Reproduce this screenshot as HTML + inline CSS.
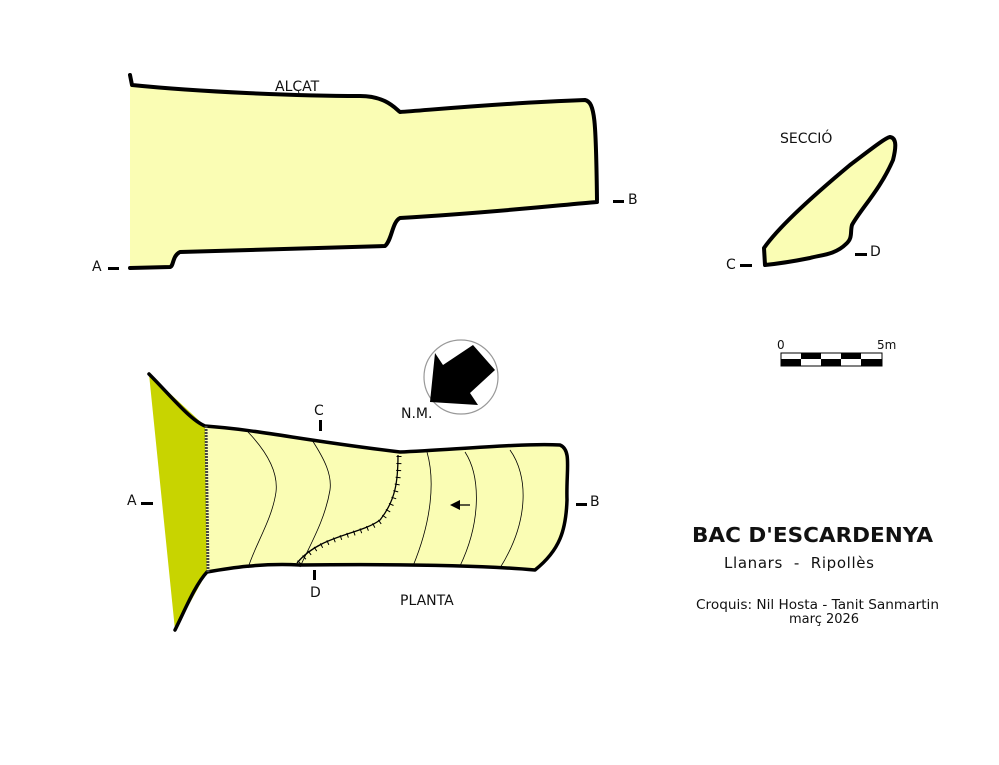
<!DOCTYPE html>
<html><head><meta charset="utf-8"><style>
body{margin:0;background:#fff}
svg{display:block}
text{font-family:"DejaVu Sans","Liberation Sans",sans-serif;fill:#111;white-space:pre}
</style></head><body>
<svg width="999" height="765" viewBox="0 0 999 765" xmlns="http://www.w3.org/2000/svg">
<!-- ALCAT -->
<path d="M130,75 L132,85 C200,92 300,96 360,96 C385,96 395,108 400,112 C430,110 500,103 585,100 C595,102 596,120 597,200 C560,205 500,212 400,218 C392,222 392,240 385,246 C330,248 250,250 180,252 C172,256 174,266 170,267 L130,268 Z" fill="#fafdb4" stroke="none"/>
<path d="M130,75 L132,85 C200,92 300,96 360,96 C385,96 395,108 400,112 C430,110 500,103 585,100 C595,102 596,120 597,200 M597,202 C560,205 500,212 400,218 C392,222 392,240 385,246 C330,248 250,250 180,252 C172,256 174,266 170,267 L130,268" fill="none" stroke="#000" stroke-width="4" stroke-linejoin="round" stroke-linecap="round"/>
<text x="275" y="91" font-size="14">ALÇAT</text>
<text x="92" y="271" font-size="14">A</text>
<rect x="108" y="267" width="11" height="3" fill="#000"/>
<rect x="613" y="200" width="11" height="3" fill="#000"/>
<text x="628" y="204" font-size="14">B</text>

<!-- SECCIO -->
<path d="M765,265 L764,248 C780,225 820,190 850,165 C870,150 885,138 890,137 C897,138 896,148 893,160 C880,190 860,210 852,225 C850,232 853,238 846,244 C835,255 820,255 810,258 C790,262 775,264 765,265 Z" fill="#fafdb4" stroke="#000" stroke-width="4" stroke-linejoin="round"/>
<text x="780" y="143" font-size="14">SECCIÓ</text>
<text x="726" y="269" font-size="14">C</text>
<rect x="740" y="264" width="12" height="3" fill="#000"/>
<rect x="855" y="253" width="12" height="3" fill="#000"/>
<text x="870" y="256" font-size="14">D</text>

<!-- scale -->
<text x="777" y="349" font-size="12">0</text>
<text x="877" y="349" font-size="12">5m</text>
<rect x="781" y="353" width="101" height="13" fill="#fff" stroke="#000" stroke-width="1"/>
<rect x="801" y="353" width="20" height="6" fill="#000"/><rect x="841" y="353" width="20" height="6" fill="#000"/>
<rect x="781" y="359" width="20" height="7" fill="#000"/><rect x="821" y="359" width="20" height="7" fill="#000"/><rect x="861" y="359" width="21" height="7" fill="#000"/>

<!-- north -->
<circle cx="461" cy="377" r="37" fill="#fff" stroke="#999" stroke-width="1.2"/>
<polygon points="435,353 443,365 473,345 495,370 470,393 478,405 430,402" fill="#000"/>
<text x="401" y="418" font-size="14">N.M.</text>

<!-- PLANTA -->
<polygon points="149,374 205,426 207,572 175,630" fill="#c8d400"/>
<path d="M205,426 C260,430 300,440 400,452 C450,450 520,443 560,445 C572,450 566,470 567,500 C566,530 560,550 535,570 C480,565 400,564 300,565 C260,563 230,568 207,572 Z" fill="#fafdb4"/>
<path d="M149,374 C170,395 190,420 205,426 C260,430 300,440 400,452 C450,450 520,443 560,445 C572,450 566,470 567,500 C566,530 560,550 535,570 C480,565 400,564 300,565 C260,563 230,568 207,572 C195,585 185,610 175,630" fill="none" stroke="#000" stroke-width="3.5" stroke-linejoin="round" stroke-linecap="round"/>
<line x1="206" y1="426" x2="208" y2="572" stroke="#444" stroke-width="3" stroke-dasharray="2,1"/>
<g fill="none" stroke="#000" stroke-width="0.8">
<path d="M248,432 C270,455 278,475 276,492 C272,520 255,545 248,568"/>
<path d="M312,440 C325,460 332,475 330,490 C325,520 310,545 300,567"/>
<path d="M427,452 C435,480 432,520 413,566"/>
<path d="M465,452 C480,475 482,520 460,566"/>
<path d="M510,450 C528,475 530,520 500,568"/>
</g>
<path d="M398,455 C398,480 396,500 380,520 C360,535 320,535 297,563" fill="none" stroke="#000" stroke-width="1.3"/>
<path d="M398,455 C398,480 396,500 380,520 C360,535 320,535 297,563" fill="none" stroke="#000" stroke-width="5" stroke-dasharray="1,6" transform="translate(1,1)"/>
<line x1="470" y1="505" x2="455" y2="505" stroke="#000" stroke-width="1.3"/>
<polygon points="450,505 460,500 460,510" fill="#000"/>
<text x="314" y="415" font-size="14">C</text>
<rect x="319" y="420" width="3" height="11" fill="#000"/>
<rect x="313" y="570" width="3" height="10" fill="#000"/>
<text x="310" y="597" font-size="14">D</text>
<text x="127" y="505" font-size="14">A</text>
<rect x="141" y="502" width="12" height="3" fill="#000"/>
<rect x="576" y="503" width="11" height="3" fill="#000"/>
<text x="590" y="506" font-size="14">B</text>
<text x="400" y="605" font-size="14">PLANTA</text>

<!-- title -->
<text x="692" y="542" font-size="20" font-weight="bold" textLength="241" lengthAdjust="spacingAndGlyphs">BAC D'ESCARDENYA</text>
<text x="724" y="568" font-size="15" textLength="150" lengthAdjust="spacing">Llanars  -  Ripollès</text>
<text x="696" y="609" font-size="13" textLength="243" lengthAdjust="spacingAndGlyphs">Croquis: Nil Hosta - Tanit Sanmartin</text>
<text x="789" y="623" font-size="13">març 2026</text>
</svg>
</body></html>
